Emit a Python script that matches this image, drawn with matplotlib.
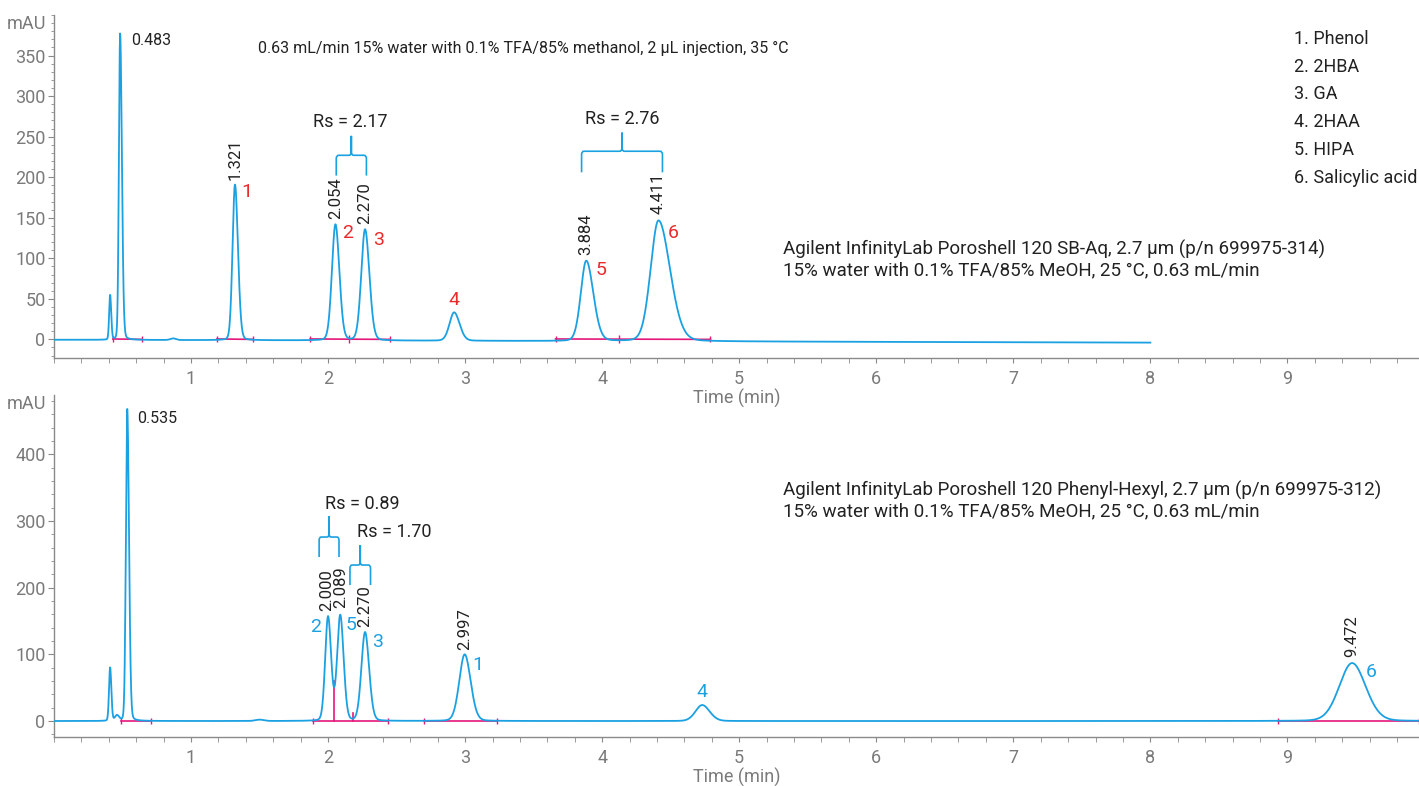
import numpy as np
import matplotlib
matplotlib.use("Agg")
import matplotlib.pyplot as plt
from matplotlib.path import Path
from matplotlib.patches import PathPatch
from matplotlib.ticker import MultipleLocator

plt.rcParams['font.family'] = ['Roboto', 'DejaVu Sans']

BLUE = '#1ba1e2'
PINK = '#e5177b'
RED = '#e92b2b'
GREY = '#7a7a7a'
DARK = '#222222'

# --- top chromatogram (SB-Aq) ---
top_rt = [0.41, 0.483, 0.87, 1.321, 2.054, 2.270, 2.92, 3.884, 4.411]
top_h = [55, 378, 2, 192, 143, 137, 35, 99, 149]
top_sl = [0.007, 0.009, 0.02, 0.018, 0.026, 0.028, 0.034, 0.040, 0.058]
top_sr = [0.008, 0.013, 0.02, 0.022, 0.029, 0.032, 0.040, 0.052, 0.085]
top_end = 8.0
top_drift = (-0.5, -4.0)
top_rt_labels = ['1.321', '2.054', '2.270', '3.884', '4.411']
top_rt_x = [1.321, 2.054, 2.270, 3.884, 4.411]
top_rt_y = [192, 143, 137, 99, 149]
top_num = ['1', '2', '3', '4', '5', '6']
top_num_x = [1.41, 2.14, 2.37, 2.92, 3.99, 4.52]
top_num_y = [182, 131, 122, 48, 85, 131]
top_base = [(0.43, 0.64), (1.19, 1.45), (1.87, 2.45), (3.66, 4.79)]
top_base_ticks = [2.15, 4.12]
top_rs = ['Rs = 2.17', 'Rs = 2.76']
top_rs_xy = [(2.16, 268), (4.15, 272)]
top_braces = [(2.06, 2.28, 202, 227, 251), (3.85, 4.44, 206, 232, 255)]

# --- bottom chromatogram (Phenyl-Hexyl) ---
bot_rt = [0.41, 0.46, 0.535, 1.5, 2.000, 2.089, 2.270, 2.997, 4.73, 9.472]
bot_h = [80, 8, 468, 2, 156, 158, 133, 100, 24, 87]
bot_sl = [0.008, 0.015, 0.010, 0.03, 0.021, 0.023, 0.027, 0.040, 0.05, 0.095]
bot_sr = [0.009, 0.015, 0.013, 0.03, 0.023, 0.025, 0.030, 0.044, 0.055, 0.100]
bot_end = 9.96
bot_drift = (0.0, 0.0)
bot_rt_labels = ['2.000', '2.089', '2.270', '2.997', '9.472']
bot_rt_x = [1.99, 2.09, 2.27, 2.997, 9.472]
bot_rt_y = [159, 163, 135, 100, 90]
bot_num = ['2', '5', '3', '1', '4', '6']
bot_num_x = [1.91, 2.17, 2.36, 3.09, 4.73, 9.61]
bot_num_y = [141, 144, 118, 84, 44, 73]
bot_base = [(0.49, 0.71), (1.89, 2.44), (2.70, 3.23), (8.93, 9.96)]
bot_drops = [(2.045, 60), (2.18, 12)]
bot_rs = ['Rs = 0.89', 'Rs = 1.70']
bot_rs_xy = [(2.25, 326), (2.48, 283)]
bot_braces = [(1.935, 2.08, 246, 276, 307), (2.16, 2.31, 204, 234, 264)]

compounds = ['1. Phenol', '2. 2HBA', '3. GA', '4. 2HAA', '5. HIPA', '6. Salicylic acid']
method = '0.63 mL/min 15% water with 0.1% TFA/85% methanol, 2 µL injection, 35 °C'
top_col = ['Agilent InfinityLab Poroshell 120 SB-Aq, 2.7 µm (p/n 699975-314)',
           '15% water with 0.1% TFA/85% MeOH, 25 °C, 0.63 mL/min']
bot_col = ['Agilent InfinityLab Poroshell 120 Phenyl-Hexyl, 2.7 µm (p/n 699975-312)',
           '15% water with 0.1% TFA/85% MeOH, 25 °C, 0.63 mL/min']


def trace(t, rts, hs, sls, srs, drift, eta=0.12):
    y = np.linspace(drift[0], drift[1], len(t))
    for t0, h, sl, sr in zip(rts, hs, sls, srs):
        s = np.where(t < t0, sl, sr)
        z = (t - t0) / s
        y = y + h * ((1 - eta) * np.exp(-0.5 * z * z) + eta / (1 + z * z))
    return y


def brace(ax, x0, x1, y0, y1, y2, rx=0.018, ry=5):
    xc = (x0 + x1) / 2
    verts, codes = [], []
    for xe, sgn in ((x0, 1), (x1, -1)):
        verts += [(xe, y0), (xe, y1 - ry), (xe, y1), (xe + sgn * rx, y1),
                  (xc - sgn * rx, y1), (xc, y1), (xc, y1 + ry), (xc, y2)]
        codes += [Path.MOVETO, Path.LINETO, Path.CURVE3, Path.CURVE3,
                  Path.LINETO, Path.CURVE3, Path.CURVE3, Path.LINETO]
    ax.add_patch(PathPatch(Path(verts, codes), fill=False, edgecolor=BLUE, lw=1.2))


def style(ax, ylim, ymaj, ymin):
    ax.set_xlim(0, 9.96)
    ax.set_ylim(*ylim)
    ax.patch.set_alpha(0)
    for s in ['top', 'right']:
        ax.spines[s].set_visible(False)
    for s in ['left', 'bottom']:
        ax.spines[s].set_color('#8a8a8a')
        ax.spines[s].set_linewidth(1.0)
    ax.xaxis.set_major_locator(MultipleLocator(1))
    ax.xaxis.set_minor_locator(MultipleLocator(0.2))
    ax.yaxis.set_major_locator(MultipleLocator(ymaj))
    ax.yaxis.set_minor_locator(MultipleLocator(ymin))
    ax.set_xticks(range(1, 10))
    ax.set_yticks(np.arange(0, ylim[1], ymaj))
    ax.tick_params(axis='both', which='both', colors='#8a8a8a', labelcolor=GREY, labelsize=13)
    ax.tick_params(axis='x', which='both', length=3.5, pad=5)
    ax.tick_params(axis='y', which='major', length=4, pad=2)
    ax.tick_params(axis='y', which='minor', length=2.5)
    ax.set_xlabel('Time (min)', fontsize=13, color=GREY, labelpad=1)
    ax.text(-0.006, 1.0, 'mAU', transform=ax.transAxes, ha='right', va='top',
            fontsize=13, color=GREY)


fig = plt.figure(figsize=(14.19, 7.86), dpi=100)
ax1 = fig.add_axes([0.038, 0.5445, 0.962, 0.4364])
ax2 = fig.add_axes([0.038, 0.0623, 0.962, 0.4351])

# top
t1 = np.linspace(0, top_end, 6000)
ax1.plot(t1, trace(t1, top_rt, top_h, top_sl, top_sr, top_drift), color=BLUE, lw=1.3, zorder=3)
for a, b in top_base:
    ax1.plot([a, b], [0.5, 0.0], color=PINK, lw=1.2, zorder=2)
    ax1.plot([a, b], [0.5, 0.0], ls='none', marker='|', ms=5, color=PINK, zorder=2)
ax1.plot(top_base_ticks, [0.2, 0.2], ls='none', marker='|', ms=6, color=PINK, zorder=2)
for lab, x, y in zip(top_rt_labels, top_rt_x, top_rt_y):
    ax1.annotate(lab, (x, y), xytext=(0, 3), textcoords='offset points', rotation=90,
                 ha='center', va='bottom', fontsize=12, color=DARK)
for lab, x, y in zip(top_num, top_num_x, top_num_y):
    ax1.text(x, y, lab, ha='center', va='center', fontsize=14, color=RED)
for lab, (x, y) in zip(top_rs, top_rs_xy):
    ax1.text(x, y, lab, ha='center', va='center', fontsize=13, color=DARK)
for br in top_braces:
    brace(ax1, *br, ry=4)
ax1.text(0.562, 369, '0.483', ha='left', va='center', fontsize=11.5, color=DARK)
ax1.text(1.49, 359, method, ha='left', va='center', fontsize=11.5, color=DARK)
for i, line in enumerate(top_col):
    ax1.text(5.32, 111 - 26 * i, line, ha='left', va='center', fontsize=13.5, color=DARK)
for i, c in enumerate(compounds):
    ax1.text(9.05, 371 - 34.5 * i, c, ha='left', va='center', fontsize=13, color=DARK)
style(ax1, (-23, 400), 50, 10)

# bottom
t2 = np.linspace(0, bot_end, 7000)
ax2.plot(t2, trace(t2, bot_rt, bot_h, bot_sl, bot_sr, bot_drift), color=BLUE, lw=1.3, zorder=3)
for a, b in bot_base:
    ax2.plot([a, b], [0.5, 0.5], color=PINK, lw=1.2, zorder=2)
    ax2.plot([a, b], [0.5, 0.5], ls='none', marker='|', ms=5, color=PINK, zorder=2)
for x, h in bot_drops:
    ax2.plot([x, x], [0, h], color=PINK, lw=1.2, zorder=2)
for lab, x, y in zip(bot_rt_labels, bot_rt_x, bot_rt_y):
    ax2.annotate(lab, (x, y), xytext=(0, 3), textcoords='offset points', rotation=90,
                 ha='center', va='bottom', fontsize=12, color=DARK)
for lab, x, y in zip(bot_num, bot_num_x, bot_num_y):
    ax2.text(x, y, lab, ha='center', va='center', fontsize=14, color=BLUE)
for lab, (x, y) in zip(bot_rs, bot_rs_xy):
    ax2.text(x, y, lab, ha='center', va='center', fontsize=13, color=DARK)
for br in bot_braces:
    brace(ax2, *br, rx=0.015, ry=5)
ax2.text(0.606, 454, '0.535', ha='left', va='center', fontsize=11.5, color=DARK)
for i, line in enumerate(bot_col):
    ax2.text(5.32, 346 - 31 * i, line, ha='left', va='center', fontsize=13.5, color=DARK)
style(ax2, (-24, 489), 100, 20)

fig.savefig('out.png', dpi=100)
